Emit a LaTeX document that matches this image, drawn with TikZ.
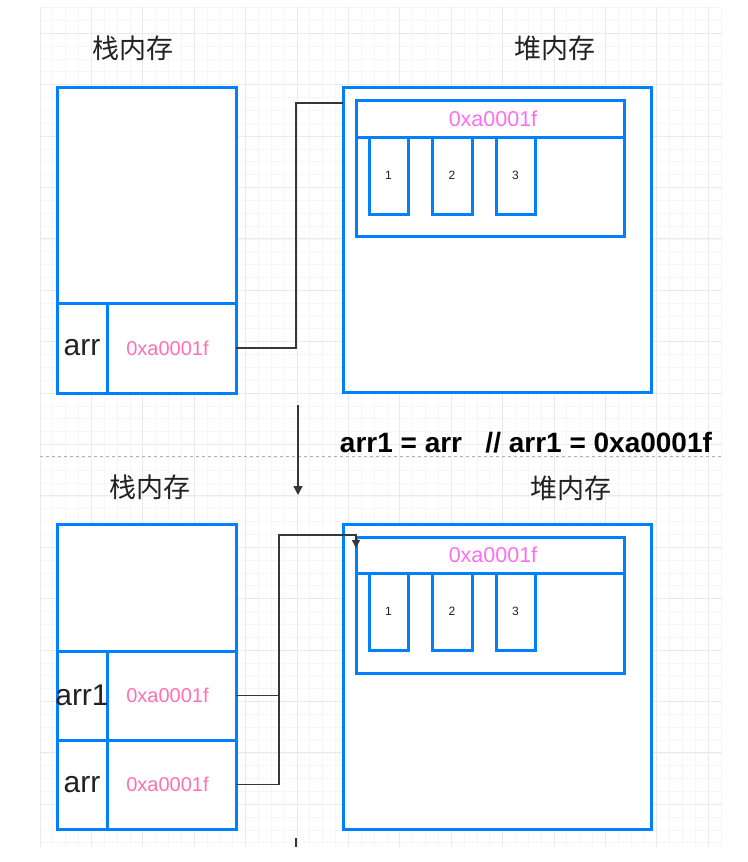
\documentclass[tikz,border=0pt]{standalone}
\usepackage{fontspec}
\setmainfont{Liberation Sans}
\newfontfamily\cjk{Noto Sans CJK SC}
\usetikzlibrary{fit,arrows.meta}
\definecolor{bblue}{RGB}{0,127,255}
\definecolor{spink}{RGB}{255,112,178}
\definecolor{hpink}{RGB}{255,110,240}
\definecolor{darkline}{RGB}{55,55,55}
\definecolor{gmin}{RGB}{246,246,246}
\definecolor{gmaj}{RGB}{234,234,234}
\definecolor{txt}{RGB}{34,34,34}
\begin{document}
\begin{tikzpicture}[x=1pt,y=-1pt,
  box/.style={draw=bblue,fill=white,line width=3pt,inner sep=0pt,outer sep=0pt},
  conn/.style={draw=darkline,line width=1.3pt},
  gridminor/.style={draw=gmin,line width=0.8pt},
  gridmajor/.style={draw=gmaj,line width=1pt},
  nametxt/.style={text=txt,font=\fontsize{30}{30}\selectfont,inner sep=0pt},
  valtxt/.style={text=spink,font=\fontsize{20}{20}\selectfont,inner sep=0pt},
  hdrtxt/.style={text=hpink,font=\fontsize{21.5}{21.5}\selectfont,inner sep=0pt},
  numtxt/.style={text=txt,font=\fontsize{12}{12}\selectfont,inner sep=0pt},
  titletxt/.style={text=txt,font=\cjk\fontsize{27}{27}\selectfont,inner sep=0pt},
  codetxt/.style={text=black,font=\bfseries\fontsize{28}{28}\selectfont,inner sep=0pt}]
\useasboundingbox (0,0) rectangle (747,862);
\fill[white] (0,0) rectangle (747,862);
% grid
\begin{scope}
\clip (40,7) rectangle (722,847);
\foreach \i in {0,...,53} \draw[gridminor] ({40+12.85*\i},7) -- ({40+12.85*\i},847);
\foreach \j in {0,...,65} \draw[gridminor] (40,{7.6+12.85*\j}) -- (722,{7.6+12.85*\j});
\foreach \i in {0,...,13} \draw[gridmajor] ({40+51.4*\i},7) -- ({40+51.4*\i},847);
\foreach \j in {0,...,16} \draw[gridmajor] (40,{33.3+51.4*\j}) -- (722,{33.3+51.4*\j});
\end{scope}
% separator
\coordinate (sepL) at (40,456);
\coordinate (sepR) at (722,456);
\draw[draw=gray!60,line width=0.9pt,dash pattern=on 3pt off 3pt] (sepL) -- (sepR);

% ===== top =====
\node[titletxt] (stTitleA) at (133,48) {栈内存};
\node[titletxt] (hpTitleA) at (555,48) {堆内存};
\node[box,fit={(57,87) (236,393)}] (stackA) {};
\node[box,fit={(57,87) (236,303)}] (freeA) {};
\node[box,fit={(57,303) (107,393)}] (nameA) {};
\node[box,fit={(107,303) (236,393)}] (valA) {};
\node[nametxt] at (nameA.center) {arr};
\node[valtxt] at ([xshift=-4pt]valA.center) {0xa0001f};

\node[box,fit={(343,87) (651,392)}] (heapA) {};
\node[box,fit={(356,100) (624,236)}] (arrA) {};
\node[box,fit={(356,100) (624,137.5)}] (hdrA) {};
\node[hdrtxt] at ([xshift=3pt]hdrA.center) {0xa0001f};
\node[box,fit={(369,137.5) (408,214)}] (a1) {};
\node[box,fit={(432,137.5) (472,214)}] (a2) {};
\node[box,fit={(496,137.5) (535,214)}] (a3) {};
\node[numtxt] at (a1.center) {1};
\node[numtxt] at (a2.center) {2};
\node[numtxt] at (a3.center) {3};

\coordinate (jA) at (296,103);
\coordinate (pA) at (343,103);
\draw[conn] (valA.east) -| (jA) -- (pA);

% ===== transition =====
\node[codetxt] (code) at (526,443) {arr1 = arr \ \ // arr1 = 0xa0001f};
\coordinate (m1) at (298,405);
\coordinate (m2) at (298,495);
\draw[conn,-{Triangle[length=9pt,width=9pt]}] (m1) -- (m2);

% ===== bottom =====
\node[titletxt] (stTitleB) at (149.5,487) {栈内存};
\node[titletxt] (hpTitleB) at (571,488) {堆内存};
\node[box,fit={(57,524) (236,829)}] (stackB) {};
\node[box,fit={(57,524) (236,651)}] (freeB) {};
\node[box,fit={(57,651) (107,740)}] (nameB1) {};
\node[box,fit={(107,651) (236,740)}] (valB1) {};
\node[box,fit={(57,740) (107,829)}] (nameB0) {};
\node[box,fit={(107,740) (236,829)}] (valB0) {};
\node[nametxt] at (nameB1.center) {arr1};
\node[valtxt] at ([xshift=-4pt]valB1.center) {0xa0001f};
\node[nametxt] at (nameB0.center) {arr};
\node[valtxt] at ([xshift=-4pt]valB0.center) {0xa0001f};

\node[box,fit={(343,524) (651,829)}] (heapB) {};
\node[box,fit={(356,537) (624,673)}] (arrB) {};
\node[box,fit={(356,537) (624,573)}] (hdrB) {};
\node[hdrtxt] at ([xshift=3pt]hdrB.center) {0xa0001f};
\node[box,fit={(369,573) (408,650)}] (b1) {};
\node[box,fit={(432,573) (472,650)}] (b2) {};
\node[box,fit={(496,573) (535,650)}] (b3) {};
\node[numtxt] at (b1.center) {1};
\node[numtxt] at (b2.center) {2};
\node[numtxt] at (b3.center) {3};

\coordinate (jB) at (279,535);
\coordinate (qB) at (356,535);
\coordinate (tB) at (356,548);
\draw[conn,-{Triangle[length=8pt,width=8pt]}] (valB0.east) -| (jB) -- (qB) -- (tB);
\draw[conn] (valB1.east) -- (valB1.east -| jB);

\coordinate (s1) at (296,838);
\coordinate (s2) at (296,847);
\draw[conn] (s1) -- (s2);
\end{tikzpicture}
\end{document}
